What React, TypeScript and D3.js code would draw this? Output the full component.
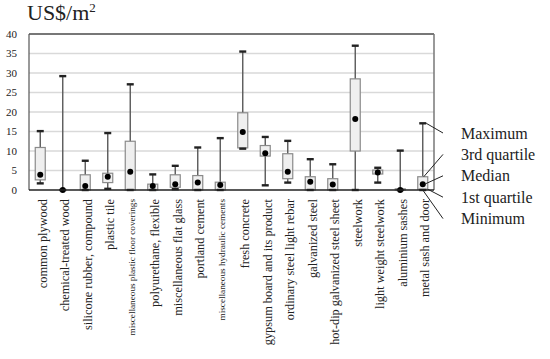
import React from 'react';
import * as d3 from 'd3';

const categories = [
  'common plywood',
  'chemical-treated wood',
  'silicone rubber, compound',
  'plastic tile',
  'miscellaneous plastic floor coverings',
  'polyurethane, flexible',
  'miscellaneous flat glass',
  'portland cement',
  'miscellaneous hydraulic cements',
  'fresh concrete',
  'gypsum board and its product',
  'ordinary steel light rebar',
  'galvanized steel',
  'hot-dip galvanized steel sheet',
  'steelwork',
  'light weight steelwork',
  'aluminium sashes',
  'metal sash and door',
];
const maxVals = [15.1, 29.2, 7.5, 14.6, 27.1, 4.0, 6.2, 10.9, 13.3, 35.5, 13.6, 12.6, 7.9, 6.6, 37.0, 5.7, 10.1, 17.1];
const q3Vals = [10.9, 0, 3.9, 4.3, 12.5, 1.5, 3.9, 3.7, 2.0, 19.8, 11.4, 9.3, 3.4, 2.9, 28.5, 5.1, 0.3, 3.4];
const medianVals = [3.9, 0, 1.0, 3.4, 4.7, 1.0, 1.5, 1.9, 1.3, 14.9, 9.4, 4.7, 2.1, 1.4, 18.2, 4.5, 0, 1.5];
const q1Vals = [2.6, 0, 0, 1.9, 0, 0, 0.7, 0, 0, 10.8, 8.7, 2.9, 0, 0, 10.0, 4.1, 0, 0.2];
const minVals = [1.7, 0, 0, 0.3, 0, 0, 0.2, 0, 0, 10.6, 1.2, 1.9, 0, 0, 0, 1.9, 0, 0];
const yTicks = [0, 5, 10, 15, 20, 25, 30, 35, 40];
const legendLabels = ['Maximum', '3rd quartile', 'Median', '1st quartile', 'Minimum'];
const smallLabels = ['miscellaneous plastic floor coverings', 'miscellaneous hydraulic cements'];

const W = 550;
const H = 359;
const left = 29, right = 434, top = 34, bottom = 190;
const font = { fontFamily: 'Liberation Serif' };

export default function App() {
  const x = d3.scaleBand<string>().domain(categories).range([left, right]);
  const y = d3.scaleLinear().domain([0, 40]).range([bottom, top]);
  const bw = 10;
  const cap = 7;

  const boxes = categories.map((c, i) => ({
    c,
    cx: (x(c) as number) + x.bandwidth() / 2,
    max: maxVals[i], q3: q3Vals[i], med: medianVals[i], q1: q1Vals[i], min: minVals[i],
  }));

  // legend pointers go to the last box
  const last = boxes[boxes.length - 1];
  const legX = 461;
  const legY = (i: number) => 133 + i * 21.4;
  const targets = [
    [last.cx + cap / 2, y(last.max)],
    [last.cx + 1, y(last.q3)],
    [last.cx + 2, y(last.med)],
    [last.cx + bw / 2, y(last.q1)],
    [last.cx, y(last.min)],
  ];

  return (
    <svg width={W} height={H} style={{ position: 'absolute', left: 0, top: 0, background: '#fff', fontFamily: 'Liberation Serif' }}>
      <text x={27} y={20} style={font} fontSize={22} fill="#222">
        US$/m<tspan fontSize={13} dy={-8}>2</tspan>
      </text>

      {yTicks.map(t => (
        <g key={t}>
          {t > 0 && t < 40 && (
            <line x1={left} x2={right} y1={y(t)} y2={y(t)} stroke="#d9d9d9" strokeWidth={1.3} />
          )}
          <text x={17} y={y(t)} dy="0.35em" textAnchor="end" style={font} fontSize={11} fill="#222">
            {t}
          </text>
        </g>
      ))}

      {/* frame */}
      <line x1={left} x2={right} y1={top} y2={top} stroke="#777" strokeWidth={1.8} />
      <line x1={right} x2={right} y1={top} y2={bottom} stroke="#777" strokeWidth={1.5} />
      <line x1={left} x2={left} y1={top} y2={bottom} stroke="#555" strokeWidth={1.2} />

      {boxes.map(b => (
        <g key={b.c}>
          <line x1={b.cx} x2={b.cx} y1={y(b.max)} y2={y(b.min)} stroke="#595959" strokeWidth={1.4} />
          {b.q3 - b.q1 > 0 && (
            <rect x={b.cx - bw / 2} y={y(b.q3)} width={bw} height={y(b.q1) - y(b.q3)}
              fill="#efefef" stroke="#8a8a8a" strokeWidth={1.2} />
          )}
          <line x1={b.cx - cap / 2} x2={b.cx + cap / 2} y1={y(b.max)} y2={y(b.max)} stroke="#222" strokeWidth={2.4} />
          <line x1={b.cx - cap / 2} x2={b.cx + cap / 2} y1={y(b.min)} y2={y(b.min)} stroke="#222" strokeWidth={2.4} />
          <circle cx={b.cx} cy={y(b.med)} r={3} fill="#000" />
        </g>
      ))}

      <line x1={left} x2={right} y1={bottom} y2={bottom} stroke="#222" strokeWidth={1.4} />

      {boxes.map(b => (
        <text key={b.c} transform={`translate(${b.cx + 2},${bottom + 9}) rotate(-90)`}
          textAnchor="end" dy="0.35em" style={font}
          fontSize={smallLabels.includes(b.c) ? 9.2 : 12.3} fill="#222">
          {b.c}
        </text>
      ))}

      {legendLabels.map((l, i) => (
        <g key={l}>
          <line x1={443} y1={legY(i)} x2={targets[i][0]} y2={targets[i][1]} stroke="#222" strokeWidth={1} />
          <text x={legX} y={legY(i)} dy="0.35em" style={font} fontSize={16} fill="#222">{l}</text>
        </g>
      ))}
    </svg>
  );
}
